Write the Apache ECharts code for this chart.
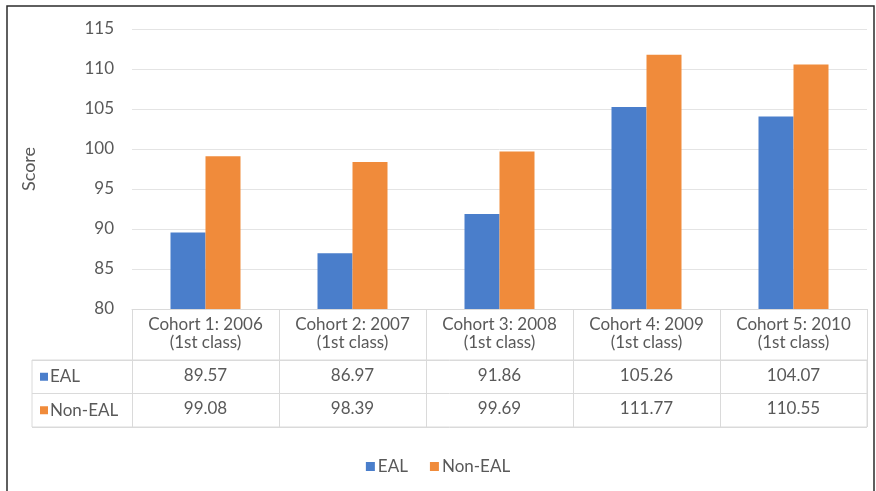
<!DOCTYPE html>
<html>
<head>
<meta charset="utf-8">
<script src="https://cdn.jsdelivr.net/npm/echarts@6/dist/echarts.min.js"></script>
<style>
  html, body { margin: 0; padding: 0; background: #fff; }
  #chart { width: 876px; height: 491px; }
</style>
</head>
<body>
<div id="chart"></div>
<script>
// Cohort scores, EAL vs non-EAL pupils
const categories = ['Cohort 1: 2006', 'Cohort 2: 2007', 'Cohort 3: 2008', 'Cohort 4: 2009', 'Cohort 5: 2010'];
const classLabel = '(1st class)';
const seriesNames = ['EAL', 'Non-EAL'];
const ealScores = [89.57, 86.97, 91.86, 105.26, 104.07];
const nonEalScores = [99.08, 98.39, 99.69, 111.77, 110.55];
const yMin = 80, yMax = 115, yStep = 5;

const colors = ['#4a7ecb', '#f08b3b'];
const textColor = '#595959';
const ruleColor = '#dadada';
const fontFamily = 'Lato, "Open Sans", sans-serif';
const fs = 17;

const chart = echarts.init(document.getElementById('chart'));

// Each category label doubles as a data-table column: header + one value per series
const columnLabel = (name, idx) =>
  `{h|${name}}\n{h|${classLabel}}\n{sp| }\n{v|${ealScores[idx].toFixed(2)}}\n{v|${nonEalScores[idx].toFixed(2)}}`;

chart.setOption({
  animation: false,
  color: colors,
  textStyle: { fontFamily },
  grid: [
    { left: 132, right: 9, top: 29, bottom: 182 },
    // row-label column + value rows of the data table
    { left: 32, right: 9, top: 360, height: 67, show: true, borderColor: ruleColor, borderWidth: 1 }
  ],
  xAxis: [
    {
      type: 'category',
      gridIndex: 0,
      data: categories,
      axisLine: { show: true, lineStyle: { color: ruleColor, width: 1 } },
      axisTick: { show: true, interval: 0, length: 118, lineStyle: { color: ruleColor, width: 1 } },
      axisLabel: {
        interval: 0,
        margin: 7,
        color: textColor,
        formatter: (v, i) => columnLabel(v, i),
        rich: {
          h: { fontSize: fs, lineHeight: 18, color: textColor, fontFamily },
          sp: { fontSize: 4, lineHeight: 7 },
          v: { fontSize: fs, lineHeight: 33, color: textColor, fontFamily }
        }
      }
    },
    { type: 'value', gridIndex: 1, show: false, min: 0, max: 1 }
  ],
  yAxis: [
    {
      type: 'value',
      gridIndex: 0,
      min: yMin,
      max: yMax,
      interval: yStep,
      name: 'Score',
      nameLocation: 'middle',
      nameGap: 94,
      nameTextStyle: { color: textColor, fontSize: 18, fontFamily },
      axisLine: { show: false },
      axisTick: { show: false },
      axisLabel: { color: textColor, fontSize: fs, margin: 18, fontFamily },
      splitLine: { lineStyle: { color: '#e4e4e4', width: 1 } }
    },
    {
      type: 'category',
      gridIndex: 1,
      data: seriesNames,
      inverse: true,
      axisLine: { show: false },
      axisTick: { show: false },
      splitLine: { show: true, lineStyle: { color: ruleColor, width: 1 } },
      axisLabel: {
        inside: true,
        margin: 8,
        formatter: (v, i) => `{s${i}|}{t|${v}}`,
        rich: {
          s0: { backgroundColor: colors[0], width: 8, height: 8 },
          s1: { backgroundColor: colors[1], width: 8, height: 8 },
          t: { fontSize: fs, color: textColor, padding: [0, 0, 0, 2], fontFamily }
        }
      }
    }
  ],
  legend: {
    data: seriesNames,
    left: 'center',
    top: 453,
    icon: 'rect',
    itemWidth: 9,
    itemHeight: 9,
    itemGap: 22,
    textStyle: { color: textColor, fontSize: fs, fontFamily, padding: [0, 0, 0, -2] }
  },
  series: [
    { name: seriesNames[0], type: 'bar', xAxisIndex: 0, yAxisIndex: 0, data: ealScores, barWidth: 35, barGap: '0%' },
    { name: seriesNames[1], type: 'bar', xAxisIndex: 0, yAxisIndex: 0, data: nonEalScores, barWidth: 35, barGap: '0%' }
  ],
  graphic: [
    {
      type: 'rect',
      silent: true,
      shape: { x: 7, y: 6, width: 867, height: 500 },
      style: { fill: 'none', stroke: '#2b2b2b', lineWidth: 1.5 }
    }
  ]
});
</script>
</body>
</html>
